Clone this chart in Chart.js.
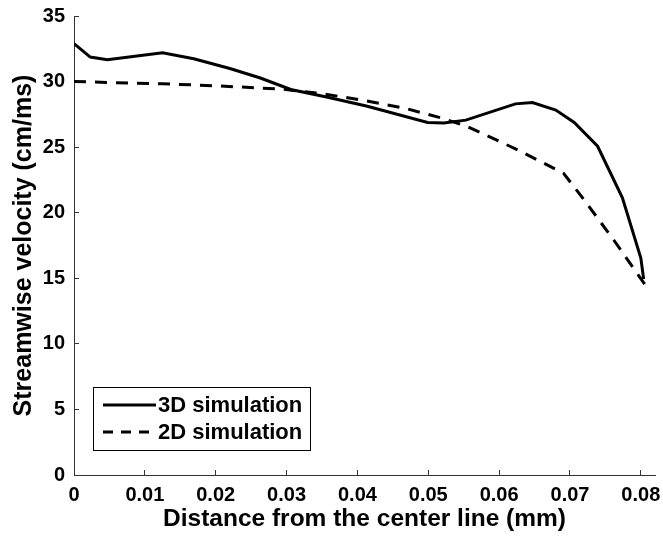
<!DOCTYPE html>
<html>
<head>
<meta charset="utf-8">
<script src="https://cdn.jsdelivr.net/npm/chart.js@4/dist/chart.umd.min.js"></script>
<style>
html,body{margin:0;padding:0;background:#fff;}
#wrap{width:663px;height:536px;}
</style>
</head>
<body>
<div id="wrap"><canvas id="c" width="663" height="536"></canvas></div>
<script>
// ---- data ----
const seriesNames = ['3D simulation', '2D simulation'];

const sim3dX = [0, 0.0023, 0.0047, 0.0125, 0.0169, 0.022, 0.0263, 0.0306, 0.0358, 0.0414, 0.0499, 0.0522, 0.0553, 0.0623, 0.0647, 0.068, 0.0706, 0.0739, 0.0774, 0.0800, 0.0804];
const sim3dY = [32.9, 31.87, 31.66, 32.2, 31.74, 31.0, 30.27, 29.4, 28.8, 28.12, 26.88, 26.85, 27.06, 28.3, 28.4, 27.83, 26.88, 25.07, 21.14, 16.55, 14.95];

const sim2dX = [0, 0.0125, 0.02, 0.0292, 0.0348, 0.0405, 0.0466, 0.0522, 0.0555, 0.0626, 0.0691, 0.0720, 0.0762, 0.0808];
const sim2dY = [30.0, 29.83, 29.68, 29.43, 29.1, 28.6, 27.98, 27.17, 26.57, 24.8, 23.0, 20.98, 17.9, 14.36];

const xTickValues = [0, 0.01, 0.02, 0.03, 0.04, 0.05, 0.06, 0.07, 0.08];
const xTickLabels = ['0', '0.01', '0.02', '0.03', '0.04', '0.05', '0.06', '0.07', '0.08'];
const yTickValues = [0, 5, 10, 15, 20, 25, 30, 35];
const yTickLabels = ['0', '5', '10', '15', '20', '25', '30', '35'];

const xTitle = 'Distance from the center line (mm)';
const yTitle = 'Streamwise velocity (cm/ms)';

// ---- build ----
const FONT = '"Liberation Sans", Arial, Helvetica, sans-serif';
const toPts = (xs, ys) => xs.map((x, i) => ({x: x, y: ys[i]}));

const boxLegend = {
  id: 'boxLegend',
  afterDraw(chart) {
    const ctx = chart.ctx;
    const left = 93.5, top = 387.5, w = 217, h = 63;
    ctx.save();
    ctx.fillStyle = '#fff';
    ctx.fillRect(left, top, w, h);
    ctx.strokeStyle = '#000';
    ctx.lineWidth = 1;
    ctx.setLineDash([]);
    ctx.strokeRect(left, top, w, h);
    const rows = [405, 432];
    chart.data.datasets.forEach((ds, i) => {
      const y = rows[i];
      ctx.beginPath();
      ctx.strokeStyle = ds.borderColor;
      ctx.lineWidth = ds.borderWidth;
      ctx.setLineDash(i === 1 ? [10, 8] : []);
      ctx.moveTo(103, y);
      ctx.lineTo(156, y);
      ctx.stroke();
      ctx.setLineDash([]);
      ctx.fillStyle = '#000';
      ctx.font = 'bold 22px ' + FONT;
      ctx.textBaseline = 'middle';
      ctx.textAlign = 'left';
      ctx.fillText(ds.label, 158, y + 1);
    });
    ctx.restore();
  }
};

new Chart(document.getElementById('c'), {
  type: 'line',
  data: {
    datasets: [
      {
        label: seriesNames[0],
        data: toPts(sim3dX, sim3dY),
        borderColor: '#000',
        borderWidth: 3,
        pointRadius: 0,
        tension: 0,
        fill: false
      },
      {
        label: seriesNames[1],
        data: toPts(sim2dX, sim2dY),
        borderColor: '#000',
        borderWidth: 3,
        borderDash: [12, 9],
        pointRadius: 0,
        tension: 0,
        fill: false
      }
    ]
  },
  options: {
    responsive: false,
    animation: false,
    devicePixelRatio: 1,
    layout: {padding: {top: 16, right: 8, bottom: 0, left: 0}},
    plugins: {legend: {display: false}, tooltip: {enabled: false}},
    scales: {
      x: {
        type: 'linear',
        min: 0,
        max: 0.082,
        afterFit(s) { s.height = 61; s.paddingLeft = 0; s.paddingRight = 0; },
        afterBuildTicks(s) { s.ticks = xTickValues.map(v => ({value: v})); },
        ticks: {
          includeBounds: false,
          padding: 13,
          color: '#000',
          font: {family: FONT, size: 20, weight: 'bold'},
          maxRotation: 0,
          autoSkip: false,
          callback: (v) => { const i = xTickValues.indexOf(v); return i >= 0 ? xTickLabels[i] : ''; }
        },
        grid: {drawOnChartArea: false, drawTicks: true, tickLength: -5, color: '#333', lineWidth: 1},
        border: {display: true, color: '#333', width: 1},
        title: {
          display: true,
          text: xTitle,
          color: '#000',
          font: {family: FONT, size: 24.5, weight: 'bold'},
          padding: {top: 0, bottom: 2}
        }
      },
      y: {
        type: 'linear',
        min: 0,
        max: 35,
        afterFit(s) { s.width = 74; s.paddingTop = 0; s.paddingBottom = 0; },
        afterBuildTicks(s) { s.ticks = yTickValues.map(v => ({value: v})); },
        ticks: {
          padding: 14,
          color: '#000',
          font: {family: FONT, size: 20, weight: 'bold'},
          autoSkip: false,
          callback: (v) => { const i = yTickValues.indexOf(v); return i >= 0 ? yTickLabels[i] : ''; }
        },
        grid: {drawOnChartArea: false, drawTicks: true, tickLength: -5, color: '#333', lineWidth: 1},
        border: {display: true, color: '#333', width: 1},
        title: {
          display: true,
          text: yTitle,
          color: '#000',
          font: {family: FONT, size: 25, weight: 'bold'},
          padding: {top: 9, bottom: 0}
        }
      }
    }
  },
  plugins: [boxLegend]
});
</script>
</body>
</html>
